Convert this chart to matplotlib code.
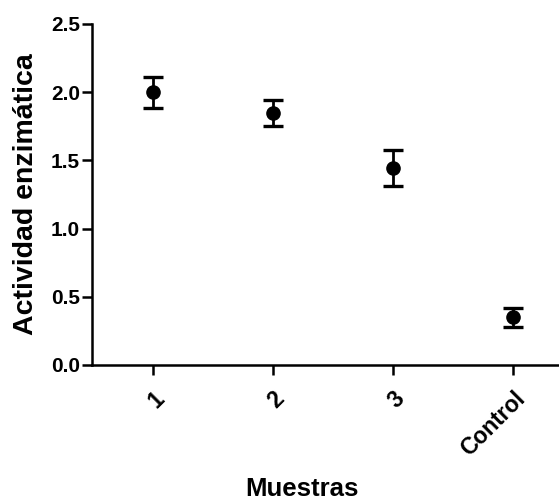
import numpy as np
import matplotlib.pyplot as plt

plt.rcParams['font.family'] = ['Liberation Sans', 'DejaVu Sans']
plt.rcParams['font.weight'] = 'bold'

muestras = ['1', '2', '3', 'Control']
actividad = [2.00, 1.845, 1.445, 0.35]
error = [0.115, 0.095, 0.13, 0.07]

fig = plt.figure(figsize=(5.59, 5.0), dpi=100)
ax = fig.add_axes([0.1646, 0.27, 0.8354, 0.682])

x = np.arange(len(muestras))
ax.errorbar(x, actividad, yerr=error, fmt='o', color='black', markersize=9.5,
            elinewidth=2, capsize=7, capthick=2.4)

ax.set_xlim(-0.505, 3.38)
ax.set_ylim(0, 2.5)
ax.set_yticks(np.arange(0, 2.51, 0.5))
ax.set_yticklabels(['%.1f' % v for v in np.arange(0, 2.51, 0.5)])
ax.set_xticks(x)
ax.set_xticklabels(muestras, rotation=45, ha='right', va='top',
                   rotation_mode='anchor')

for s in ['top', 'right']:
    ax.spines[s].set_visible(False)
for s in ['left', 'bottom']:
    ax.spines[s].set_linewidth(1.8)
ax.tick_params(width=1.8, length=7, direction='out')
ax.tick_params(axis='x', pad=9, labelsize=16.5)
ax.tick_params(axis='y', pad=1.5, labelsize=15)

ax.set_ylabel('Actividad enzimática', fontsize=20.5, fontweight='bold', labelpad=9)
fig.text(302 / 559, 1 - 489 / 500, 'Muestras', fontsize=18.5, fontweight='bold',
         ha='center', va='center')

plt.savefig('out.png', dpi=100)
